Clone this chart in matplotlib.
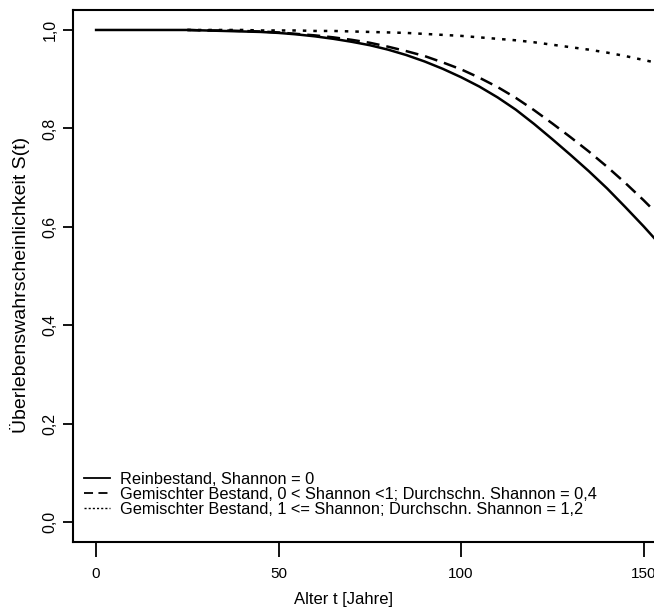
import matplotlib
matplotlib.use("Agg")
import matplotlib.pyplot as plt
from matplotlib.lines import Line2D
from matplotlib.ticker import FuncFormatter

# survival curves (age in years, S(t))
alter_rein = [0, 5, 10, 15, 20, 25, 30, 35, 40, 45, 50, 55, 60, 65, 70, 75, 80,
              85, 90, 95, 100, 105, 110, 115, 120, 125, 130, 135, 140, 145, 150, 155, 160]
s_rein = [1.000, 1.000, 1.000, 1.000, 1.000, 1.000, 0.999, 0.998, 0.997, 0.996, 0.994,
          0.991, 0.987, 0.982, 0.976, 0.969, 0.960, 0.949, 0.936, 0.921, 0.904, 0.885,
          0.863, 0.838, 0.809, 0.778, 0.746, 0.713, 0.678, 0.640, 0.601, 0.560, 0.518]

alter_misch = [25, 30, 35, 40, 45, 50, 55, 60, 65, 70, 75, 80, 85, 90, 95, 100,
               105, 110, 115, 120, 125, 130, 135, 140, 145, 150, 155, 160]
s_misch_04 = [1.000, 0.999, 0.999, 0.998, 0.997, 0.995, 0.992, 0.989, 0.985, 0.980,
              0.974, 0.966, 0.957, 0.947, 0.934, 0.920, 0.903, 0.884, 0.862, 0.837,
              0.810, 0.782, 0.753, 0.722, 0.689, 0.654, 0.617, 0.579]
s_misch_12 = [1.000, 1.000, 1.000, 1.000, 0.999, 0.999, 0.999, 0.998, 0.998, 0.997,
              0.996, 0.995, 0.994, 0.992, 0.990, 0.988, 0.985, 0.982, 0.979, 0.975,
              0.970, 0.965, 0.960, 0.954, 0.947, 0.939, 0.931, 0.922]

labels = ["Reinbestand, Shannon = 0",
          "Gemischter Bestand, 0 < Shannon <1; Durchschn. Shannon = 0,4",
          "Gemischter Bestand, 1 <= Shannon; Durchschn. Shannon = 1,2"]

plt.rcParams['font.family'] = ['Liberation Sans', 'DejaVu Sans']

fig = plt.figure(figsize=(6.54, 6.16), dpi=100)
# axes run past the right edge, as in the cropped original
ax = fig.add_axes([0.1112, 0.1206, 0.9644, 0.8627])

dash = (0, (5.2, 2.8))
dot = (0, (1.4, 2.8))
ax.plot(alter_rein, s_rein, color='black', lw=1.8, ls='-')
ax.plot(alter_misch, s_misch_04, color='black', lw=1.8, ls=dash)
ax.plot(alter_misch, s_misch_12, color='black', lw=1.8, ls=dot)

ax.set_xlim(-6.4, 166.4)
ax.set_ylim(-0.04, 1.04)
ax.set_xticks([0, 50, 100, 150])
ax.set_yticks([0.0, 0.2, 0.4, 0.6, 0.8, 1.0])
ax.yaxis.set_major_formatter(FuncFormatter(lambda v, p: f"{v:.1f}".replace('.', ',')))
for lab in ax.get_yticklabels():
    lab.set_rotation(90)
    lab.set_va('center')
ax.tick_params(axis='y', length=7, width=1.3, labelsize=11.5, pad=4)
ax.tick_params(axis='x', length=11, width=1.3, labelsize=11, pad=7)
for sp in ax.spines.values():
    sp.set_linewidth(1.5)

ax.set_xlabel("Alter t [Jahre]", fontsize=12)
ax.xaxis.set_label_coords(0.43, -0.095)
ax.set_ylabel("Überlebenswahrscheinlichkeit S(t)", fontsize=14)
ax.yaxis.set_label_coords(-0.067, 0.483)

handles = [Line2D([], [], color='black', lw=1.3, ls='-'),
           Line2D([], [], color='black', lw=1.3, ls=(0, (5, 3))),
           Line2D([], [], color='black', lw=1.0, ls=(0, (1.5, 1.5)))]
ax.legend(handles, labels, loc='lower left', bbox_to_anchor=(0.0, 0.025),
          frameon=False, fontsize=11.8, handlelength=1.55, handletextpad=0.65,
          labelspacing=0.0, borderaxespad=0.3)

fig.savefig("out.png", dpi=100)
